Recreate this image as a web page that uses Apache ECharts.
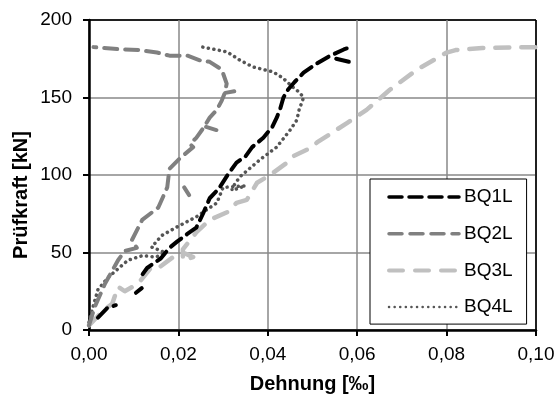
<!DOCTYPE html>
<html>
<head>
<meta charset="utf-8">
<script src="https://cdn.jsdelivr.net/npm/echarts@6/dist/echarts.min.js"></script>
<style>html,body{margin:0;padding:0;background:#fff}#c{width:559px;height:394px}</style>
</head>
<body>
<div id="c"></div>
<script>
const seriesNames = ['BQ1L', 'BQ2L', 'BQ3L', 'BQ4L'];
const xTickLabels = ['0,00', '0,02', '0,04', '0,06', '0,08', '0,10'];
const yTickLabels = ['0', '50', '100', '150', '200'];
const xTitle = 'Dehnung [‰]';
const yTitle = 'Prüfkraft [kN]';

const bq1L = [
  [0.002, 8], [0.004, 14], [0.006, 16], ['-', '-'],
  [0.0105, 24], [0.0118, 27], ['-', '-'],
  [0.012, 36], [0.013, 40], [0.016, 46], [0.018, 53], [0.0197, 57], [0.022, 62],
  [0.024, 66], [0.0255, 75], [0.027, 85], [0.029, 91], [0.031, 100], [0.033, 108],
  [0.035, 112], [0.0365, 118], [0.039, 124], [0.041, 131], [0.042, 137],
  [0.0427, 142], [0.0435, 150], [0.0445, 155], [0.046, 160], [0.048, 166],
  [0.051, 172], [0.054, 177], [0.057, 181], [0.059, 183], ['-', '-'],
  [0.0553, 175], [0.0582, 173]
];
const bq2L = [
  [0.0, 3], [0.0013, 15], [0.0036, 30], [0.0065, 45], [0.008, 51], [0.0107, 53],
  [0.0096, 58], [0.0119, 71], [0.0155, 79], [0.0175, 92], [0.018, 104],
  [0.0204, 111], [0.0233, 118], [0.0226, 120], [0.024, 124], [0.0255, 130],
  [0.027, 137], [0.0286, 142], [0.0297, 148], [0.0304, 153], [0.0308, 159],
  [0.0297, 168], [0.027, 173], [0.0248, 174], [0.022, 177], [0.018, 177],
  [0.0152, 179], [0.0114, 180.6], [0.0074, 181], [0.001, 182.5], ['-', '-'],
  [0.0305, 153], [0.0325, 154], ['-', '-'],
  [0.0262, 131], [0.0285, 129], ['-', '-'],
  [0.0213, 92], [0.0224, 87]
];
const bq3L = [
  [0.0, 3], [0.003, 12], [0.0052, 17], [0.0065, 28], [0.008, 25], [0.011, 30],
  [0.014, 40.6], [0.016, 41], [0.0188, 47], [0.021, 50], [0.0233, 47],
  [0.021, 45], [0.021, 52], [0.024, 63], [0.027, 71], [0.0309, 76], [0.033, 82],
  [0.0353, 84], [0.0376, 95], [0.0405, 100], [0.0443, 108], [0.0456, 112],
  [0.05, 118], [0.051, 121], [0.0577, 133.5], [0.0621, 142], [0.0673, 155],
  [0.0734, 168], [0.08, 179], [0.082, 180.6], [0.088, 182], [0.1, 182.5]
];
const bq4L = [
  [0.0, 5], [0.0007, 13], [0.002, 26], [0.0043, 34], [0.0087, 45], [0.012, 48],
  [0.015, 47], [0.017, 50], [0.014, 53.5], [0.0163, 61], [0.0197, 66.5],
  [0.024, 73], [0.0286, 82], [0.030, 92], [0.035, 93], [0.032, 90], [0.032, 91.6],
  [0.0338, 99], [0.0383, 110], [0.042, 118], [0.045, 129], [0.0465, 135.5],
  [0.047, 142], [0.048, 150], [0.047, 153.5], [0.0456, 156.7], [0.0434, 162.5],
  [0.0412, 166.5], [0.0367, 169.7], [0.0338, 174], [0.0309, 179.4], [0.0253, 182.6]
];
const seriesData = [bq1L, bq2L, bq3L, bq4L];
const seriesColors = ['#000000', '#808080', '#c0c0c0', '#555555'];
const seriesWidths = [4, 4, 4.5, 3.5];
const seriesDash = [[13, 7], [13, 8], [14, 12], [0.1, 5.5]];
const legendWidths = [3.5, 3.5, 4, 2.5];

const FONT = "'Liberation Sans', Arial, sans-serif";
const chart = echarts.init(document.getElementById('c'), null, {renderer: 'canvas'});

chart.setOption({
  animation: false,
  backgroundColor: '#fff',
  grid: {left: 89, right: 23, top: 20, bottom: 64, show: true, borderColor: '#000', borderWidth: 1,
    containLabel: false, outerBoundsMode: 'none'},
  xAxis: {
    type: 'value', min: 0, max: 0.1, interval: 0.02,
    name: xTitle, nameLocation: 'middle', nameGap: 44,
    nameTextStyle: {fontFamily: FONT, fontWeight: 'bold', fontSize: 20, color: '#000'},
    axisLine: {show: true, onZero: false, lineStyle: {color: '#000', width: 2.5}},
    axisTick: {show: true, inside: false, length: 6, lineStyle: {color: '#000', width: 2}},
    axisLabel: {margin: 15, fontFamily: FONT, fontSize: 19, color: '#000',
      formatter: v => xTickLabels[Math.round(v / 0.02)]},
    splitLine: {show: true, lineStyle: {color: ['#888', '#888', '#888', '#888', '#888', '#000'], width: 1.5}}
  },
  yAxis: {
    type: 'value', min: 0, max: 200, interval: 50,
    axisLine: {show: true, onZero: false, lineStyle: {color: '#000', width: 2.5}},
    axisTick: {show: true, inside: false, length: 6, lineStyle: {color: '#000', width: 2}},
    axisLabel: {margin: 17, fontFamily: FONT, fontSize: 19, color: '#000',
      formatter: v => yTickLabels[Math.round(v / 50)]},
    splitLine: {show: true, lineStyle: {color: ['#888', '#888', '#888', '#888', '#000'], width: 1.5}}
  },
  legend: {
    orient: 'vertical', left: 370, top: 179,
    padding: [8, 14, 7, 17],
    backgroundColor: '#fff', borderColor: '#000', borderWidth: 1, borderRadius: 0,
    itemWidth: 70, itemHeight: 20, itemGap: 16.7,
    itemStyle: {opacity: 0},
    textStyle: {fontFamily: FONT, fontSize: 19, color: '#000', lineHeight: 20},
    data: seriesNames.map((n, i) => ({name: n, lineStyle: {width: legendWidths[i]}}))
  },
  graphic: [{
    type: 'text', x: 21, y: 195, rotation: Math.PI / 2,
    style: {text: yTitle, font: 'bold 20px ' + FONT, fill: '#000', align: 'center', verticalAlign: 'middle'}
  }],
  series: seriesNames.map((n, i) => ({
    name: n, type: 'line', data: seriesData[i], symbol: 'none', showSymbol: false,
    connectNulls: false, z: 10 - i,
    lineStyle: {color: seriesColors[i], width: seriesWidths[i], type: seriesDash[i], cap: 'round', join: 'round'},
    itemStyle: {color: seriesColors[i]}
  }))
});
</script>
</body>
</html>
